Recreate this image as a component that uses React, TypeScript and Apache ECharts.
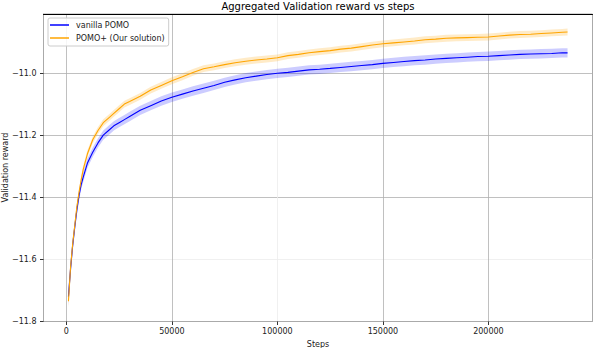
import React, { useEffect, useRef } from "react";
import * as echarts from "echarts";

const FONT = "DejaVu Sans";

const steps = [
  1000, 2000, 3000, 4000, 5000, 6000, 7000, 8000, 10000, 12500, 15000, 17500,
  20000, 22500, 25000, 27500, 30000, 35000, 40000, 45000, 50000, 55000, 60000,
  65000, 70000, 75000, 80000, 85000, 90000, 95000, 100000, 105000, 110000,
  115000, 120000, 125000, 130000, 135000, 140000, 145000, 150000, 155000,
  160000, 165000, 170000, 175000, 180000, 185000, 190000, 195000, 200000,
  205000, 210000, 215000, 220000, 225000, 230000, 235000, 237500,
];

const vanillaMean = [
  -11.72, -11.63, -11.555, -11.495, -11.44, -11.395, -11.36, -11.335, -11.29,
  -11.255, -11.225, -11.2, -11.185, -11.17, -11.16, -11.15, -11.14, -11.12,
  -11.105, -11.09, -11.078, -11.068, -11.058, -11.049, -11.04, -11.03, -11.022,
  -11.015, -11.01, -11.005, -11.001, -10.998, -10.994, -10.99, -10.988,
  -10.985, -10.982, -10.979, -10.976, -10.973, -10.969, -10.966, -10.963,
  -10.96, -10.958, -10.955, -10.953, -10.951, -10.949, -10.947, -10.946,
  -10.944, -10.942, -10.94, -10.939, -10.938, -10.937, -10.935, -10.935,
];

const vanillaSpread = [
  0.03, 0.025, 0.022, 0.02, 0.018, 0.017, 0.016, 0.016, 0.015, 0.015, 0.015,
  0.015, 0.015, 0.015, 0.015, 0.015, 0.015, 0.015, 0.015, 0.015, 0.015, 0.015,
  0.015, 0.015, 0.015, 0.015, 0.015, 0.015, 0.015, 0.015, 0.015, 0.015, 0.015,
  0.015, 0.015, 0.015, 0.015, 0.015, 0.015, 0.015, 0.015, 0.015, 0.015, 0.015,
  0.015, 0.015, 0.015, 0.015, 0.015, 0.015, 0.015, 0.015, 0.015, 0.015, 0.015,
  0.015, 0.015, 0.015, 0.015,
];

const oursMean = [
  -11.735, -11.625, -11.55, -11.49, -11.43, -11.385, -11.345, -11.31, -11.26,
  -11.215, -11.185, -11.16, -11.145, -11.13, -11.115, -11.1, -11.092, -11.075,
  -11.055, -11.04, -11.025, -11.012, -10.998, -10.986, -10.98, -10.973,
  -10.967, -10.962, -10.958, -10.955, -10.951, -10.944, -10.94, -10.935,
  -10.931, -10.928, -10.923, -10.92, -10.915, -10.91, -10.906, -10.903, -10.9,
  -10.897, -10.893, -10.891, -10.888, -10.887, -10.886, -10.885, -10.884,
  -10.881, -10.878, -10.876, -10.875, -10.873, -10.871, -10.869, -10.868,
];

const oursSpread = [
  0.02, 0.018, 0.016, 0.015, 0.014, 0.013, 0.012, 0.012, 0.011, 0.011, 0.011,
  0.011, 0.011, 0.011, 0.011, 0.011, 0.011, 0.011, 0.011, 0.011, 0.011, 0.011,
  0.011, 0.011, 0.011, 0.011, 0.011, 0.011, 0.011, 0.011, 0.011, 0.011, 0.011,
  0.011, 0.011, 0.011, 0.011, 0.011, 0.011, 0.011, 0.011, 0.011, 0.011, 0.011,
  0.011, 0.011, 0.011, 0.011, 0.011, 0.011, 0.011, 0.011, 0.011, 0.011, 0.011,
  0.011, 0.011, 0.011, 0.011,
];

const xTicks = [0, 50000, 100000, 150000, 200000];
const yTicks = [-11.8, -11.6, -11.4, -11.2, -11.0];

const NAME_VANILLA = "vanilla POMO";
const NAME_OURS = "POMO+ (Our solution)";

function bandSeries(id: string, mean: number[], spread: number[], fill: string): any {
  const data = steps.map((s, i) => [s, mean[i] - spread[i], mean[i] + spread[i]]);
  return {
    type: "custom",
    name: id + "-band",
    silent: true,
    data,
    encode: { x: 0, y: [1, 2] },
    renderItem: (params: any, api: any) => {
      if (params.dataIndex !== 0) return null;
      const upper = data.map((d) => api.coord([d[0], d[2]]));
      const lower = data.map((d) => api.coord([d[0], d[1]])).reverse();
      const cs = params.coordSys;
      return {
        type: "polygon",
        shape: { points: upper.concat(lower) },
        style: { fill, stroke: "none" },
        clipPath: { type: "rect", shape: { x: cs.x, y: cs.y, width: cs.width, height: cs.height } },
      };
    },
  };
}

export default function App() {
  const ref = useRef<HTMLDivElement>(null);
  useEffect(() => {
    if (!ref.current) return;
    const chart = echarts.init(ref.current, undefined, { renderer: "svg" });
    const labelStyle = { fontSize: 8, color: "#222", fontFamily: FONT };
    const option: any = {
      animation: false,
      backgroundColor: "#fff",
      textStyle: { fontFamily: FONT },
      grid: {
        left: 43.5,
        right: 1.5,
        top: 14,
        bottom: 26.5,
        show: true,
        borderColor: "#aaa",
        borderWidth: 1,
        containLabel: false,
        outerBoundsMode: "none",
      },
      graphic: [
        {
          type: "text",
          x: 318,
          y: 1,
          style: {
            text: "Aggregated Validation reward vs steps",
            fontSize: 10,
            fontFamily: FONT,
            fill: "#000",
            textAlign: "center",
            textVerticalAlign: "top",
          },
        },
        {
          type: "text",
          x: 5,
          y: 167.5,
          rotation: Math.PI / 2,
          style: {
            text: "Validation reward",
            fontSize: 8,
            fontFamily: FONT,
            fill: "#222",
            textAlign: "center",
            textVerticalAlign: "middle",
          },
        },
      ],
      legend: {
        data: [NAME_VANILLA, NAME_OURS],
        orient: "vertical",
        left: 48,
        top: 18,
        icon: "rect",
        itemWidth: 19,
        itemHeight: 1.5,
        itemGap: 3,
        padding: [2, 4, 3, 2],
        borderColor: "#ccc",
        borderWidth: 1,
        borderRadius: 2,
        backgroundColor: "rgba(255,255,255,0.85)",
        textStyle: { ...labelStyle, lineHeight: 10, padding: [0, 0, 0, 2] },
      },
      xAxis: [
        {
          type: "value",
          min: -10825,
          max: 249325,
          position: "bottom",
          name: "Steps",
          nameLocation: "middle",
          nameGap: 18,
          nameTextStyle: labelStyle,
          axisLine: { show: true, onZero: false, lineStyle: { color: "#aaa", width: 1 } },
          axisTick: { show: true, length: 3.5, customValues: xTicks, lineStyle: { color: "#000", width: 0.8 } },
          axisLabel: { ...labelStyle, margin: 6, customValues: xTicks, formatter: (v: number) => String(v) },
          splitLine: {
            show: true,
            lineStyle: { color: ["#b0b0b0", "#b0b0b0", "#ececec", "#b0b0b0", "#b0b0b0"], width: 0.8 },
          },
        },
        {
          type: "value",
          min: -10825,
          max: 249325,
          position: "top",
          axisLine: { show: true, onZero: false, lineStyle: { color: "#000", width: 1 } },
          axisTick: { show: false },
          axisLabel: { show: false },
          splitLine: { show: false },
        },
      ],
      yAxis: {
        type: "value",
        min: -11.8,
        max: -10.81,
        axisLine: { show: true, onZero: false, lineStyle: { color: "#aaa", width: 1 } },
        axisTick: { show: true, length: 3.5, customValues: yTicks, lineStyle: { color: "#000", width: 0.8 } },
        axisLabel: {
          ...labelStyle,
          margin: 7,
          customValues: yTicks,
          formatter: (v: number) => (v < 0 ? "\u2212" : "") + Math.abs(v).toFixed(1),
        },
        splitLine: {
          show: true,
          lineStyle: { color: ["#b0b0b0", "#ececec", "#b0b0b0", "#b0b0b0", "#b0b0b0"], width: 0.8 },
        },
      },
      series: [
        bandSeries("vanilla", vanillaMean, vanillaSpread, "rgba(0,0,255,0.2)"),
        bandSeries("ours", oursMean, oursSpread, "rgba(255,165,0,0.22)"),
        {
          type: "line",
          name: NAME_VANILLA,
          data: steps.map((s, i) => [s, vanillaMean[i]]),
          symbol: "none",
          lineStyle: { color: "#0000ff", width: 1.1 },
          itemStyle: { color: "#0000ff" },
        },
        {
          type: "line",
          name: NAME_OURS,
          data: steps.map((s, i) => [s, oursMean[i]]),
          symbol: "none",
          lineStyle: { color: "#ffa500", width: 1.1 },
          itemStyle: { color: "#ffa500" },
        },
      ],
    };
    chart.setOption(option);
    return () => chart.dispose();
  }, []);
  return (
    <div
      ref={ref}
      style={{ position: "fixed", left: 0, top: 0, width: 594, height: 348, background: "#fff" }}
    />
  );
}
